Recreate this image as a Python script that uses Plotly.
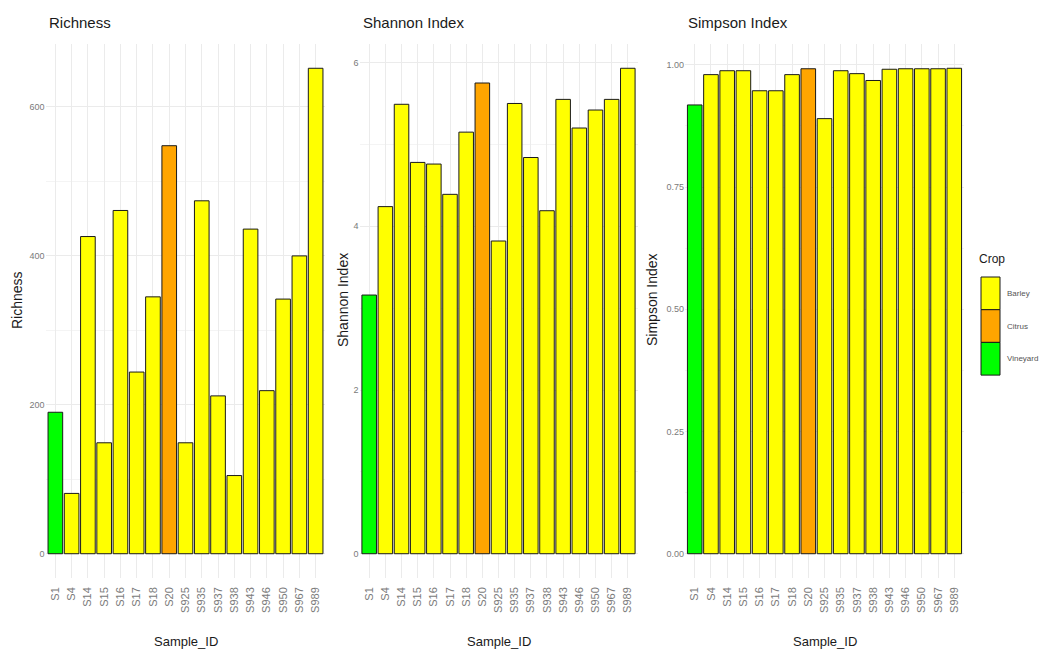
import plotly.graph_objects as go

# Alpha diversity per sample
samples = ["S1", "S4", "S14", "S15", "S16", "S17", "S18", "S20", "S925",
           "S935", "S937", "S938", "S943", "S946", "S950", "S967", "S989"]
crop = ["Vineyard", "Barley", "Barley", "Barley", "Barley", "Barley", "Barley",
        "Citrus", "Barley", "Barley", "Barley", "Barley", "Barley", "Barley",
        "Barley", "Barley", "Barley"]
richness = [190, 81, 426, 149, 461, 244, 345, 548, 149, 474, 212, 105,
            436, 219, 342, 400, 652]
shannon = [3.16, 4.24, 5.49, 4.78, 4.76, 4.39, 5.15, 5.75, 3.82, 5.50,
           4.84, 4.19, 5.55, 5.20, 5.42, 5.55, 5.93]
simpson = [0.918, 0.980, 0.988, 0.988, 0.947, 0.947, 0.980, 0.992, 0.890,
           0.988, 0.982, 0.968, 0.991, 0.992, 0.992, 0.992, 0.993]

crop_levels = ["Barley", "Citrus", "Vineyard"]
crop_fill = {"Barley": "#FFFF00", "Citrus": "#FFA500", "Vineyard": "#00FF00"}

panels = [
    dict(title="Richness", ylab="Richness", values=richness,
         ticks=[0, 200, 400, 600], ticktext=["0", "200", "400", "600"],
         minor=[100, 300, 500], ylab_gap=28.6),
    dict(title="Shannon Index", ylab="Shannon Index", values=shannon,
         ticks=[0, 2, 4, 6], ticktext=["0", "2", "4", "6"],
         minor=[1, 3, 5], ylab_gap=16.5),
    dict(title="Simpson Index", ylab="Simpson Index", values=simpson,
         ticks=[0, 0.25, 0.5, 0.75, 1.0],
         ticktext=["0.00", "0.25", "0.50", "0.75", "1.00"],
         minor=[0.125, 0.375, 0.625, 0.875], ylab_gap=33),
]

W, H = 1046, 656
FONT = "Liberation Sans, Arial, sans-serif"


def px_x(p):
    return p / W


def px_y(p):
    return 1 - p / H


# panel plot-area extents (pixels)
x_extent = [(45.6, 325.4), (359.5, 637.5), (685.0, 964.0)]
y_top_px, y_bot_px = 44, 578
ydom = [px_y(y_bot_px), px_y(y_top_px)]

fig = go.Figure()
layout = {}
annotations = []
shapes = []

for i, p in enumerate(panels):
    n = i + 1
    xa = "x" if n == 1 else f"x{n}"
    ya = "y" if n == 1 else f"y{n}"
    for c in crop_levels:
        xs = [s for s, k in zip(samples, crop) if k == c]
        ys = [v for v, k in zip(p["values"], crop) if k == c]
        fig.add_trace(go.Bar(
            x=xs, y=ys, name=c, xaxis=xa, yaxis=ya, width=0.9,
            marker=dict(color=crop_fill[c], line=dict(color="#1a1a1a", width=1)),
            showlegend=False,
        ))
    vmax = max(p["values"])
    x0, x1 = x_extent[i]
    layout[f"xaxis{'' if n == 1 else n}"] = dict(
        domain=[px_x(x0), px_x(x1)], anchor=ya,
        type="category", categoryorder="array", categoryarray=samples,
        range=[-0.6, len(samples) - 0.4],
        showgrid=True, gridcolor="#EBEBEB", gridwidth=1,
        zeroline=False, showline=False, ticks="",
        tickangle=-90, ticklabelstandoff=6,
        tickfont=dict(family=FONT, size=11, color="#7a7a7a"),
    )
    layout[f"yaxis{'' if n == 1 else n}"] = dict(
        domain=ydom, anchor=xa, range=[-0.05 * vmax, 1.05 * vmax],
        tickvals=p["ticks"], ticktext=p["ticktext"],
        showgrid=True, gridcolor="#EBEBEB", gridwidth=1,
        minor=dict(tickvals=p["minor"], showgrid=True,
                   gridcolor="#F4F4F4", gridwidth=0.6),
        zeroline=False, showline=False, ticks="",
        tickfont=dict(family=FONT, size=9, color="#7a7a7a"),
    )
    # panel title
    annotations.append(dict(
        text=p["title"], xref="paper", yref="paper",
        x=px_x(x0 + 1), y=px_y(23), xanchor="left", yanchor="middle",
        showarrow=False, font=dict(family=FONT, size=15, color="#1a1a1a"),
    ))
    # y-axis title
    annotations.append(dict(
        text=p["ylab"], xref="paper", yref="paper",
        x=px_x(x0 - p["ylab_gap"]), y=px_y(300), xanchor="center",
        yanchor="middle", textangle=-90, showarrow=False,
        font=dict(family=FONT, size=14, color="#1a1a1a"),
    ))
    # x-axis title
    annotations.append(dict(
        text="Sample_ID", xref="paper", yref="paper",
        x=px_x((x0 + x1) / 2), y=px_y(641), xanchor="center", yanchor="middle",
        showarrow=False, font=dict(family=FONT, size=13, color="#1a1a1a"),
    ))

# legend for fill colour
annotations.append(dict(
    text="Crop", xref="paper", yref="paper", x=px_x(977), y=px_y(259),
    xanchor="left", yanchor="middle", showarrow=False,
    font=dict(family=FONT, size=12, color="#1a1a1a"),
))
key_top, key_h = 277, 32.7
for j, c in enumerate(crop_levels):
    t = key_top + j * key_h
    shapes.append(dict(
        type="rect", xref="paper", yref="paper",
        x0=px_x(981), x1=px_x(1000), y0=px_y(t + key_h), y1=px_y(t),
        fillcolor=crop_fill[c], line=dict(color="#1a1a1a", width=1),
    ))
    annotations.append(dict(
        text=c, xref="paper", yref="paper", x=px_x(1005), y=px_y(t + key_h / 2),
        xanchor="left", yanchor="middle", showarrow=False,
        font=dict(family=FONT, size=8, color="#555555"),
    ))

fig.update_layout(
    width=W, height=H, margin=dict(l=0, r=0, t=0, b=0),
    paper_bgcolor="white", plot_bgcolor="white",
    barmode="overlay", showlegend=False,
    annotations=annotations, shapes=shapes,
    **layout,
)

fig.write_html("out.html")
